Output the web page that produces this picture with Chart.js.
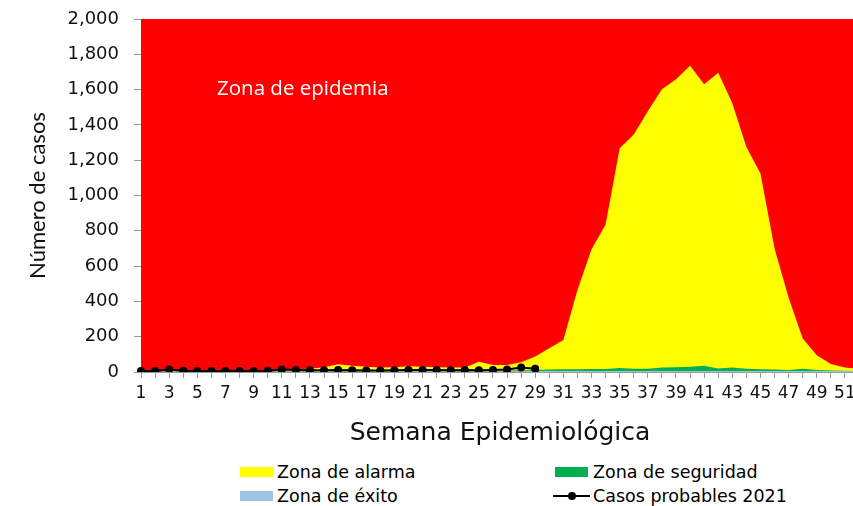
<!DOCTYPE html>
<html>
<head>
<meta charset="utf-8">
<script src="https://cdn.jsdelivr.net/npm/chart.js@4.4.1/dist/chart.umd.min.js"></script>
<style>
  html, body { margin: 0; padding: 0; background: #fff; overflow: hidden; }
  #wrap { position: relative; width: 863px; height: 506px; }
  #c { position: absolute; left: 0; top: 0; }
  .zone { position: absolute; left: 217px; top: 75px; color: #fff; font-family: "Open Sans", sans-serif; font-size: 20.5px; line-height: 24px; white-space: nowrap; }
  .lg { position: absolute; font-family: "DejaVu Sans", sans-serif; font-size: 17.5px; color: #000; line-height: 20px; white-space: nowrap; }
  .box { position: absolute; width: 33px; height: 10px; }
</style>
</head>
<body>
<div id="wrap">
  <canvas id="c" width="863" height="450"></canvas>
  <div class="zone">Zona de epidemia</div>
  <div class="box" style="left:240px;top:467px;background:#ffff00"></div>
  <div class="lg" style="left:277px;top:462px">Zona de alarma</div>
  <div class="box" style="left:555px;top:467px;background:#00b050"></div>
  <div class="lg" style="left:593px;top:462px">Zona de seguridad</div>
  <div class="box" style="left:240px;top:491px;background:#9dc3e6"></div>
  <div class="lg" style="left:277px;top:486px">Zona de éxito</div>
  <div style="position:absolute;left:553px;top:495px;width:37px;height:2px;background:#000"></div>
  <div style="position:absolute;left:568px;top:492px;width:8px;height:8px;border-radius:4px;background:#000"></div>
  <div class="lg" style="left:593px;top:486px">Casos probables 2021</div>
</div>
<script>
const weeks = [1,2,3,4,5,6,7,8,9,10,11,12,13,14,15,16,17,18,19,20,21,22,23,24,25,26,
  27,28,29,30,31,32,33,34,35,36,37,38,39,40,41,42,43,44,45,46,47,48,49,50,51,52];

const zonaEpidemia = weeks.map(() => 2000);

const zonaAlarma = [8,8,10,8,8,8,8,8,8,10,12,15,18,27,44,35,30,25,27,32,
  30,27,25,25,58,40,40,55,88,134,182,465,695,835,1267,1345,1478,1602,1658,1735,
  1630,1695,1522,1275,1124,700,420,190,95,45,25,18];

const zonaSeguridad = [6,6,6,6,6,6,6,6,6,6,6,6,6,6,6,6,6,6,6,6,
  6,6,6,6,6,6,8,10,12,14,16,15,17,17,22,19,19,26,27,30,
  36,20,26,18,16,14,12,18,12,9,7,6];

const zonaExito = [4,4,4,4,4,4,4,4,4,4,4,4,4,4,4,4,4,4,4,4,
  4,4,4,4,4,4,4,5,5,6,6,6,6,6,6,6,6,6,6,6,
  6,6,6,6,6,6,6,6,5,5,5,5];

const casos2021 = [6,5,14,7,6,6,6,5,6,7,14,12,10,10,11,10,8,9,10,11,
  12,12,10,11,10,12,14,25,18,null,null,null,null,null,null,null,null,null,null,null,
  null,null,null,null,null,null,null,null,null,null,null,null];

const yTicks = [0,200,400,600,800,1000,1200,1400,1600,1800,2000];

const areaDs = (label, data, color, order) => ({
  type: 'line', label, data, order,
  backgroundColor: color, borderColor: color, borderWidth: 0,
  pointRadius: 0, fill: 'origin', tension: 0
});

new Chart(document.getElementById('c'), {
  type: 'line',
  data: {
    labels: weeks,
    datasets: [
      {
        label: 'Casos probables 2021', data: casos2021, order: 1,
        borderColor: '#000', backgroundColor: '#000', borderWidth: 2,
        pointRadius: 4, pointBackgroundColor: '#000', pointBorderWidth: 0,
        fill: false, tension: 0, spanGaps: false
      },
      areaDs('Zona de éxito', zonaExito, '#9dc3e6', 2),
      areaDs('Zona de seguridad', zonaSeguridad, '#00b050', 3),
      areaDs('Zona de alarma', zonaAlarma, '#ffff00', 4),
      areaDs('Zona de epidemia', zonaEpidemia, '#ff0000', 5)
    ]
  },
  options: {
    responsive: false,
    animation: false,
    layout: { padding: { top: 19, left: 0, right: 0, bottom: 0 } },
    plugins: { legend: { display: false }, tooltip: { enabled: false } },
    scales: {
      x: {
        type: 'category',
        offset: false,
        afterFit: s => { s.height = 78; s.paddingRight = 0; },
        grid: { drawOnChartArea: false, tickLength: 6, color: '#999' },
        border: { color: '#999' },
        ticks: {
          autoSkip: false, maxRotation: 0, minRotation: 0, padding: 5,
          color: '#111', font: { family: 'DejaVu Sans', size: 17 },
          callback: (v, i) => (i % 2 === 0 ? String(weeks[i]) : '')
        },
        title: {
          display: true, text: 'Semana Epidemiológica', color: '#111',
          font: { family: 'DejaVu Sans', size: 25 }, padding: { top: 0, bottom: 2 }
        }
      },
      y: {
        min: 0, max: 2000,
        afterFit: s => { s.width = 141; s.paddingTop = 0; s.paddingBottom = 0; },
        afterBuildTicks: s => { s.ticks = yTicks.map(v => ({ value: v })); },
        grid: { drawOnChartArea: false, tickLength: 7, color: '#999' },
        border: { color: '#999' },
        ticks: {
          padding: 15, color: '#111', font: { family: 'DejaVu Sans', size: 18 },
          callback: v => v.toLocaleString('en-US')
        },
        title: {
          display: true, text: 'Número de casos', color: '#111',
          font: { family: 'Lato, sans-serif', size: 22 },
          padding: { top: 25, bottom: 0 }
        }
      }
    }
  }
});
</script>
</body>
</html>
